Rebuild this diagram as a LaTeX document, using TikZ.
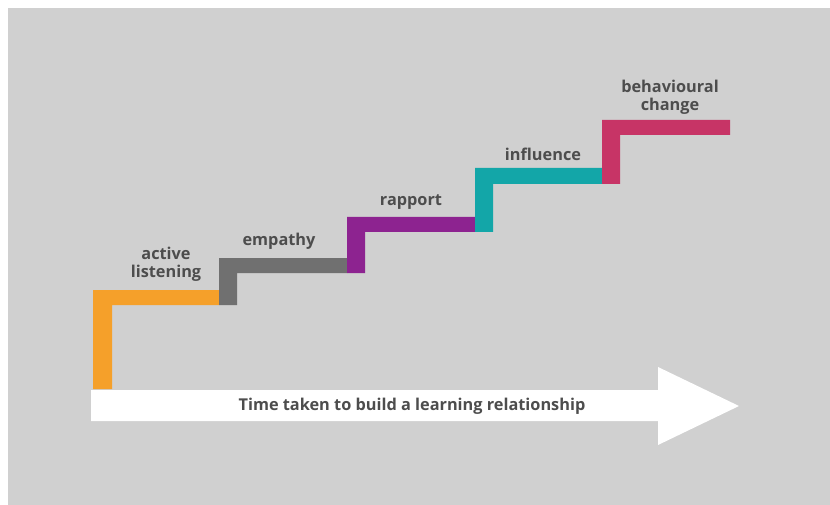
\documentclass[tikz,border=0pt]{standalone}
\usepackage{fontspec}
\setmainfont{Open Sans}
\begin{document}
\begin{tikzpicture}[x=1pt,y=-1pt,
  label/.style={font=\fontsize{16.3}{18}\selectfont\bfseries, text=labelgray, align=center, inner sep=0pt}]
\definecolor{bggray}{HTML}{D0D0D0}
\definecolor{labelgray}{HTML}{4D4D4D}
\definecolor{sorange}{HTML}{F5A02A}
\definecolor{sgray}{HTML}{707070}
\definecolor{spurple}{HTML}{8D2390}
\definecolor{steal}{HTML}{13A6A8}
\definecolor{spink}{HTML}{C73466}
% canvas
\useasboundingbox (0,0) rectangle (830,505);
\fill[white] (0,0) rectangle (830,505);
\fill[bggray] (8,8) rectangle (830,505);

% staircase: each step is a riser plus a tread
\fill[sorange] (93,290) rectangle (112,389) (93,290) rectangle (219,305);
\fill[sgray]   (219,258) rectangle (237,305) (219,258) rectangle (347,273);
\fill[spurple] (347,217) rectangle (365,273) (347,217) rectangle (475,232);
\fill[steal]   (475,168) rectangle (493,232) (475,168) rectangle (602,184);
\fill[spink]   (602,120) rectangle (620,184) (602,120) rectangle (730,135);

% time arrow
\fill[white] (91,390) -- (658,390) -- (658,367) -- (739,406) -- (658,445)
  -- (658,421) -- (91,421) -- cycle;
\node[label] (time) at (412,406.5) {Time taken to build a learning relationship};

% step labels
\node[label] (active)  at (166,264.5) {active\\listening};
\node[label] (empathy) at (279,241.5) {empathy};
\node[label] (rapport) at (411,202.5) {rapport};
\node[label] (influence) at (543,154.5) {influence};
\node[label] (change)  at (670,97.5)  {behavioural\\change};
\end{tikzpicture}
\end{document}
